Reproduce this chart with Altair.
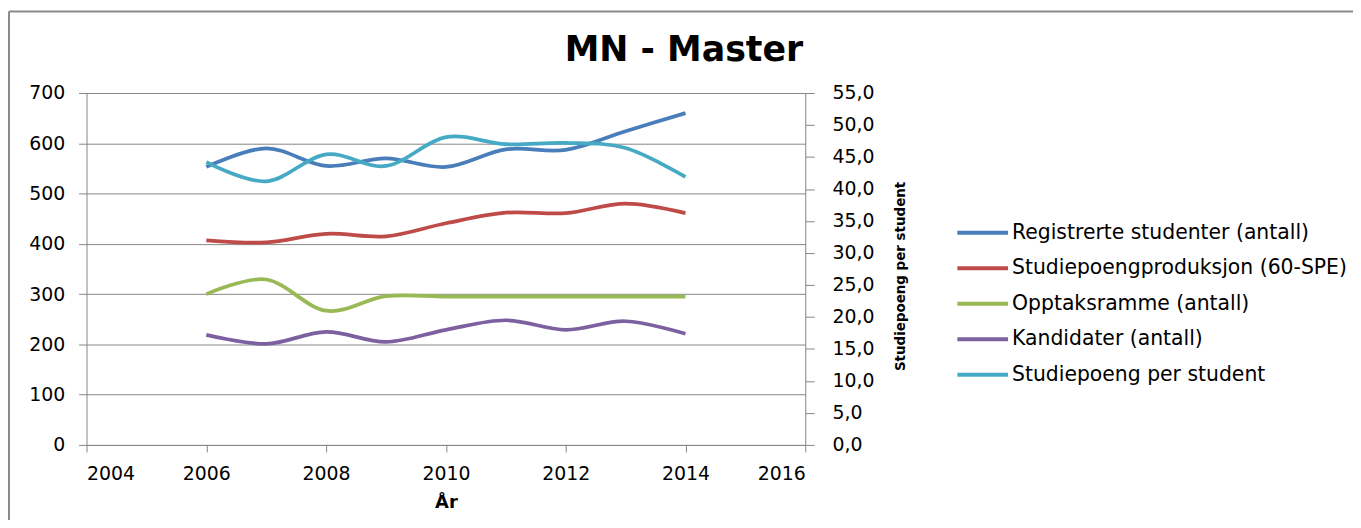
import altair as alt
import pandas as pd

years = [2006, 2007, 2008, 2009, 2010, 2011, 2012, 2013, 2014]
registrerte = [553, 590, 555, 570, 553, 588, 587, 624, 660]
produksjon = [407, 403, 420, 415, 441, 462, 461, 480, 461]
opptak = [300, 329, 267, 296, 295, 295, 295, 295, 295]
kandidater = [219, 201, 225, 205, 229, 248, 229, 246, 221]
sp_per_student = [44.2, 41.2, 45.4, 43.6, 48.1, 47.0, 47.2, 46.4, 41.9]

series_names = [
    "Registrerte studenter (antall)",
    "Studiepoengproduksjon (60-SPE)",
    "Opptaksramme (antall)",
    "Kandidater (antall)",
    "Studiepoeng per student",
]
series_colors = ["#4A7EBB", "#BE4B48", "#98B954", "#7D60A0", "#46AAC5"]
left_series = [registrerte, produksjon, opptak, kandidater]

rows = []
for name, vals in zip(series_names[:4], left_series):
    for yr, v in zip(years, vals):
        rows.append({"year": yr, "value": v, "series": name, "axis": "left"})
for yr, v in zip(years, sp_per_student):
    rows.append({"year": yr, "value": v, "series": series_names[4], "axis": "right"})
df = pd.DataFrame(rows)

FONT = "DejaVu Sans"
GRID = "#868686"
W, H = 723, 354

x_enc = alt.X(
    "year:Q",
    scale=alt.Scale(domain=[2004, 2016], nice=False),
    axis=alt.Axis(
        values=[2004, 2006, 2008, 2010, 2012, 2014, 2016],
        format="d",
        title="År",
        grid=False,
        tickSize=7,
        labelPadding=13,
        titlePadding=10,
    ),
)

color_enc = alt.Color(
    "series:N",
    scale=alt.Scale(domain=series_names, range=series_colors),
    sort=series_names,
    legend=alt.Legend(
        title=None,
        orient="none",
        legendX=889,
        legendY=128,
        symbolType="M-2.5,0H2.5",
        symbolSize=416,
        symbolStrokeWidth=4,
        rowPadding=12.75,
        labelFont=FONT,
        labelFontSize=20.5,
        labelColor="#000000",
        labelOffset=17,
        labelLimit=400,
    ),
)

base = alt.Chart(df)

left = base.transform_filter(alt.datum.axis == "left").mark_line(
    interpolate="cardinal", strokeWidth=3.75
).encode(
    x=x_enc,
    y=alt.Y(
        "value:Q",
        scale=alt.Scale(domain=[0, 700], nice=False),
        axis=alt.Axis(
            values=[0, 100, 200, 300, 400, 500, 600, 700],
            title=None,
            grid=True,
            gridColor=GRID,
            tickSize=8,
            labelPadding=14,
        ),
    ),
    color=color_enc,
)

right = base.transform_filter(alt.datum.axis == "right").mark_line(
    interpolate="cardinal", strokeWidth=3.75
).encode(
    x=x_enc,
    y=alt.Y(
        "value:Q",
        scale=alt.Scale(domain=[0, 55], nice=False),
        axis=alt.Axis(
            orient="right",
            values=[0, 5, 10, 15, 20, 25, 30, 35, 40, 45, 50, 55],
            labelExpr="replace(format(datum.value, '.1f'), '.', ',')",
            title="Studiepoeng per student",
            titleAngle=270,
            titleBaseline="top",
            titleFont="DejaVu Sans Condensed, DejaVu Sans",
            titleFontSize=15,
            titlePadding=19,
            titleY=184,
            grid=False,
            tickSize=9,
            labelPadding=18,
        ),
    ),
    color=color_enc,
)

deco = alt.Data(values=[{"t": "MN - Master"}])
title = alt.Chart(deco).mark_text(
    font=FONT, fontSize=35, fontWeight="bold", color="#000000", baseline="alphabetic", align="center"
).encode(text="t:N", x=alt.value(601), y=alt.value(-32))

border_top = alt.Chart(deco).mark_rule(color="#8A8A8A", strokeWidth=2).encode(
    x=alt.value(-78), x2=alt.value(1300), y=alt.value(-82)
)
border_left = alt.Chart(deco).mark_rule(color="#8A8A8A", strokeWidth=2).encode(
    x=alt.value(-78), y=alt.value(-82), y2=alt.value(450)
)

chart = (
    alt.layer(border_top, border_left, title, left, right)
    .resolve_scale(y="independent")
    .properties(
        width=W,
        height=H,
        autosize=alt.AutoSizeParams(type="none"),
        padding={"left": 79, "top": 84, "right": 551, "bottom": 74},
    )
    .configure_view(strokeWidth=0)
    .configure_axis(
        domainColor=GRID,
        tickColor=GRID,
        labelFont=FONT,
        labelFontSize=19,
        labelColor="#000000",
        titleFont=FONT,
        titleFontSize=18,
        titleFontWeight="bold",
        titleColor="#000000",
    )
)

chart.save("out.html", embed_options={"renderer": "svg", "actions": False})
